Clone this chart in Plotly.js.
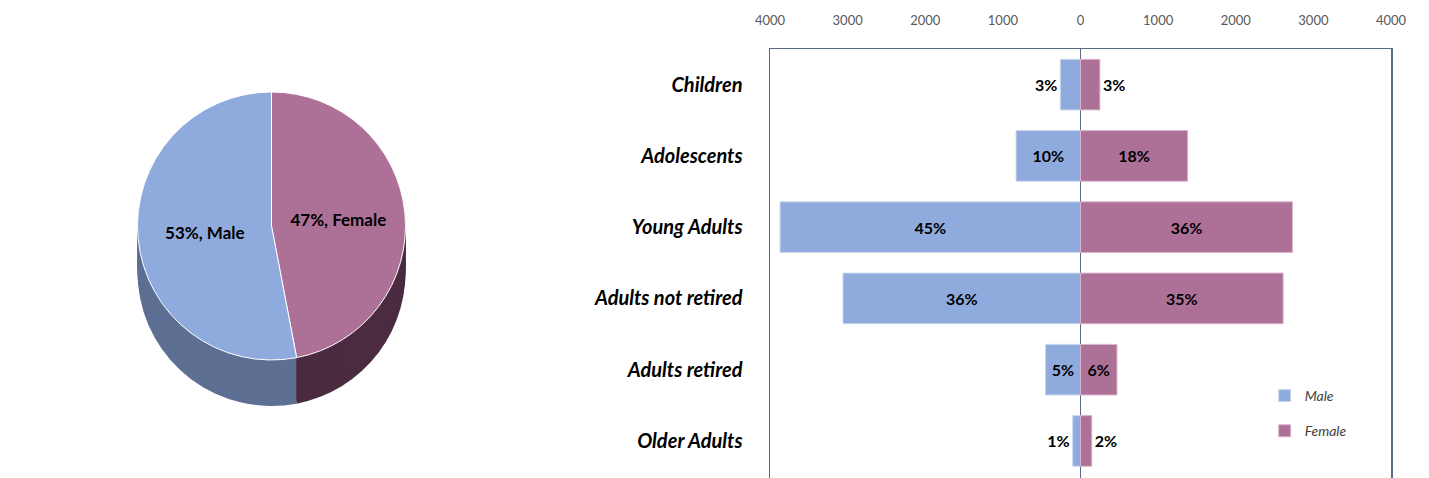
<!DOCTYPE html>
<html>
<head>
<meta charset="utf-8">
<script src="https://cdn.plot.ly/plotly-3.0.1.min.js"></script>
<style>html,body{margin:0;padding:0;background:#fff;}#chart{width:1429px;height:478px;}</style>
</head>
<body>
<div id="chart"></div>
<script>
// ---- data ----
const categories = ['Children', 'Adolescents', 'Young Adults', 'Adults not retired', 'Adults retired', 'Older Adults'];
const maleCounts = [260, 830, 3870, 3060, 450, 100];
const femaleCounts = [250, 1380, 2730, 2610, 470, 145];
const malePct = ['3%', '10%', '45%', '36%', '5%', '1%'];
const femalePct = ['3%', '18%', '36%', '35%', '6%', '2%'];
const pieLabels = ['Female', 'Male'];
const pieValues = [47, 53];
const tickVals = [-4000, -3000, -2000, -1000, 0, 1000, 2000, 3000, 4000];
const tickText = ['4000', '3000', '2000', '1000', '0', '1000', '2000', '3000', '4000'];

// ---- styles ----
const MALE = '#8faadc', FEMALE = '#ad7198';
const MALE_DARK = '#5d6f93', FEMALE_DARK = '#4a2b3f';
const H = 478;
const pieX = [0, 0.38];
const pieTopPx = 92, pieDiam = 268, depth = 46, layers = 16;
const LBL = {family: 'Lato, Open Sans, sans-serif', size: 16, color: '#000', weight: 'bold'};

const traces = [];
// depth layers of the pie (drawn first, bottom-most first)
for (let i = layers; i >= 1; i--) {
  const off = depth * i / layers;
  const top = pieTopPx + off, bot = top + pieDiam;
  traces.push({
    type: 'pie', labels: pieLabels, values: pieValues, sort: false,
    direction: 'clockwise', rotation: 0,
    domain: {x: pieX, y: [1 - bot / H, 1 - top / H]},
    marker: {colors: [FEMALE_DARK, MALE_DARK], line: {width: 0}},
    textinfo: 'none', hoverinfo: 'skip', showlegend: false
  });
}
// top of the pie
traces.push({
  type: 'pie', labels: pieLabels, values: pieValues, sort: false,
  direction: 'clockwise', rotation: 0,
  domain: {x: pieX, y: [1 - (pieTopPx + pieDiam) / H, 1 - pieTopPx / H]},
  marker: {colors: [FEMALE, MALE], line: {width: 1, color: '#ffffff'}},
  texttemplate: '%{percent:.0%}, %{label}', textposition: 'inside',
  insidetextorientation: 'horizontal',
  textfont: {family: 'Lato, Open Sans, sans-serif', size: 17, color: '#000', weight: 'bold'},
  hoverinfo: 'label+percent', showlegend: false
});

// pyramid bars
traces.push({
  type: 'bar', orientation: 'h', name: 'Male', legendgroup: 'm',
  y: categories, x: maleCounts.map(v => -v),
  text: malePct, textposition: 'auto', constraintext: 'none',
  insidetextanchor: 'middle',
  textfont: LBL, insidetextfont: LBL, outsidetextfont: LBL,
  marker: {color: MALE, line: {color: '#c9d6ee', width: 1}},
  width: 0.71, cliponaxis: false, hoverinfo: 'y+text'
});
traces.push({
  type: 'bar', orientation: 'h', name: 'Female', legendgroup: 'f',
  y: categories, x: femaleCounts,
  text: femalePct, textposition: 'auto', constraintext: 'none',
  insidetextanchor: 'middle',
  textfont: LBL, insidetextfont: LBL, outsidetextfont: LBL,
  marker: {color: FEMALE, line: {color: '#d9b3cb', width: 1}},
  width: 0.71, cliponaxis: false, hoverinfo: 'y+text'
});

const layout = {
  width: 1429, height: 478,
  margin: {l: 0, r: 0, t: 0, b: 0},
  paper_bgcolor: '#ffffff', plot_bgcolor: '#ffffff',
  barmode: 'overlay',
  showlegend: true,
  legend: {
    x: 0.885, y: 0.205, xanchor: 'left', yanchor: 'top',
    font: {family: 'Lato, Open Sans, sans-serif', size: 14, color: '#404040', style: 'italic'},
    traceorder: 'grouped', tracegroupgap: 14, itemwidth: 30, bgcolor: 'rgba(0,0,0,0)'
  },
  xaxis: {
    domain: [770 / 1429, 1391 / 1429],
    range: [-4000, 4000], side: 'top',
    tickvals: tickVals, ticktext: tickText,
    tickfont: {family: 'Lato, Open Sans, sans-serif', size: 13, color: '#595959'},
    ticks: 'outside', ticklen: 17, tickcolor: 'rgba(0,0,0,0)',
    showgrid: false, showline: true, linecolor: '#5a6a80', linewidth: 1.5, mirror: false,
    zeroline: true, zerolinecolor: '#5a6a80', zerolinewidth: 1.5, fixedrange: true
  },
  yaxis: {
    domain: [0, 1 - 49 / 478],
    range: [5.52, -0.5], type: 'category',
    tickfont: {family: 'Lato, Open Sans, sans-serif', size: 20, color: '#000', weight: 'bold', style: 'italic'},
    ticks: 'outside', ticklen: 22, tickcolor: 'rgba(0,0,0,0)',
    showgrid: false, showline: true, linecolor: '#5a6a80', linewidth: 1.5, mirror: true,
    fixedrange: true
  }
};

Plotly.newPlot('chart', traces, layout, {displayModeBar: false, staticPlot: true});
</script>
</body>
</html>
